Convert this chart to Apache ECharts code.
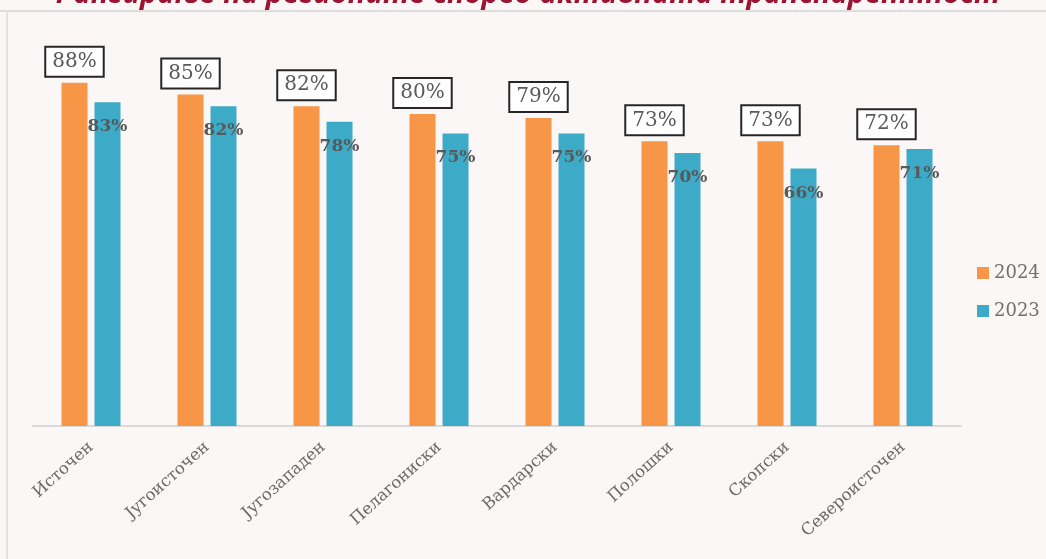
<!DOCTYPE html>
<html>
<head>
<meta charset="utf-8">
<style>
html,body{margin:0;padding:0;background:#fcf7f7;}
#chart{width:1046px;height:559px;}
</style>
<script src="https://cdn.jsdelivr.net/npm/echarts@6/dist/echarts.min.js"></script>
</head>
<body>
<div id="chart"></div>
<script>
const titleText = 'Рангирање на регионите според активната транспарентност';
const categories = ['Источен', 'Југоисточен', 'Југозападен', 'Пелагониски', 'Вардарски', 'Полошки', 'Скопски', 'Североисточен'];
const values2024 = [88, 85, 82, 80, 79, 73, 73, 72];
const values2023 = [83, 82, 78, 75, 75, 70, 66, 71];
const seriesNames = ['2024', '2023'];

const chart = echarts.init(document.getElementById('chart'));
const serif = '"DejaVu Serif", Cambria, serif';
chart.setOption({
  backgroundColor: '#fcf7f7',
  animation: false,
  graphic: [
    { type: 'line', shape: { x1: 0, y1: 11, x2: 1046, y2: 11 }, style: { stroke: '#dcdcdc', lineWidth: 2 }, z: -1 },
    { type: 'line', shape: { x1: 7, y1: 11, x2: 7, y2: 559 }, style: { stroke: '#e2e2e2', lineWidth: 2 }, z: -1 },
    { type: 'text', x: 528, y: 9, style: { text: titleText, fill: '#9b1433', font: 'italic bold 29px "Open Sans", sans-serif', align: 'center', verticalAlign: 'bottom' } }
  ],
  grid: { left: 33, right: 85, top: 36, bottom: 133 },
  legend: {
    orient: 'vertical', left: 972, top: 259,
    itemWidth: 12, itemHeight: 12, itemGap: 20,
    icon: 'rect',
    data: seriesNames,
    textStyle: { fontFamily: serif, fontSize: 18, color: '#707070' }
  },
  xAxis: {
    type: 'category', data: categories,
    axisLine: { lineStyle: { color: '#d9d9d9', width: 2 } },
    axisTick: { show: false },
    axisLabel: { rotate: 42, margin: 19, fontFamily: serif, fontSize: 16.5, color: '#6b6b6b', interval: 0 }
  },
  yAxis: { type: 'value', min: 0, max: 100, show: false, splitLine: { show: false } },
  series: [
    {
      name: seriesNames[0], type: 'bar', data: values2024,
      barWidth: 26, barGap: '27%', barCategoryGap: '49%',
      itemStyle: { color: '#F79646' },
      label: {
        show: true, position: 'top', distance: 7,
        formatter: '{c}%', fontFamily: serif, fontSize: 20, color: '#595959',
        textBorderWidth: 0, textShadowBlur: 0,
        borderColor: '#262626', borderWidth: 2, padding: [4, 6], backgroundColor: '#ffffff'
      }
    },
    {
      name: seriesNames[1], type: 'bar', data: values2023,
      barWidth: 26,
      itemStyle: { color: '#3DABC8' },
      label: {
        show: true, position: 'insideTop', distance: 16,
        formatter: '{c}%', fontFamily: serif, fontSize: 17, fontWeight: 'bold', color: '#595959',
        textBorderWidth: 0
      }
    }
  ]
});
</script>
</body>
</html>
